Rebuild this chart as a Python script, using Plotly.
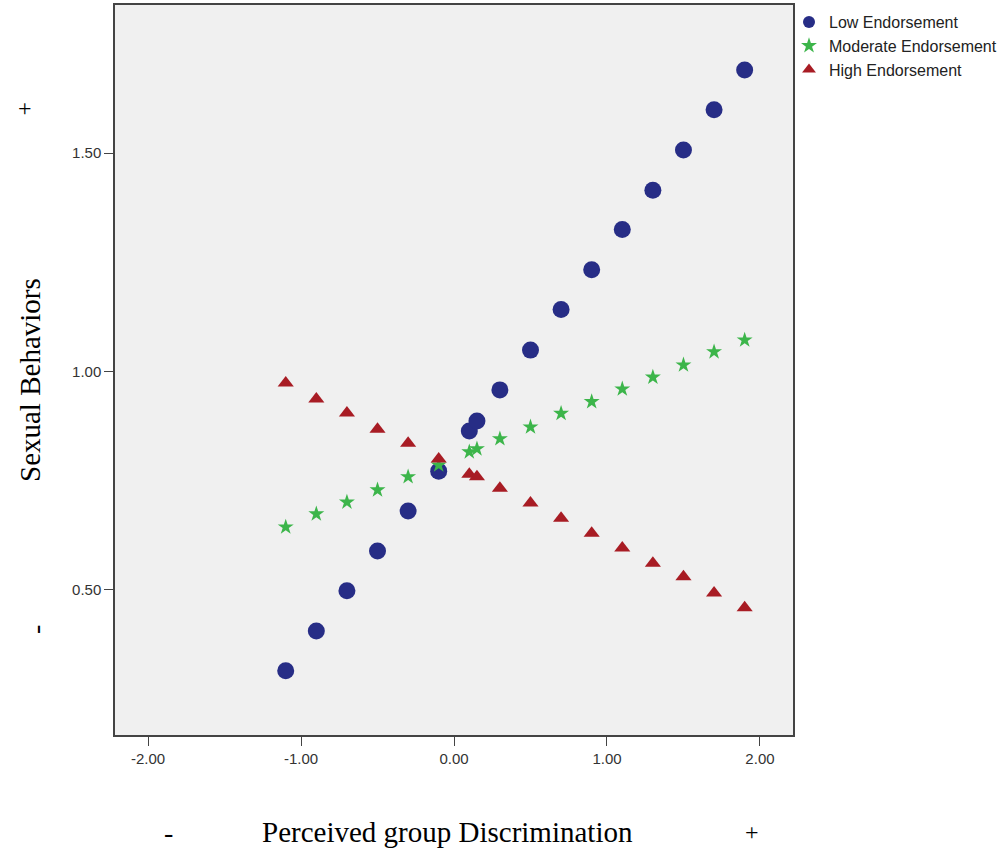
import plotly.graph_objects as go

x_vals = [-1.1, -0.9, -0.7, -0.5, -0.3, -0.1, 0.1, 0.15, 0.3, 0.5, 0.7, 0.9, 1.1, 1.3, 1.5, 1.7, 1.9]
low = [0.315, 0.406, 0.498, 0.589, 0.681, 0.772, 0.864, 0.887, 0.958, 1.049, 1.142, 1.233, 1.325, 1.415, 1.507, 1.599, 1.690]
moderate = [0.644, 0.674, 0.701, 0.729, 0.759, 0.786, 0.816, 0.823, 0.846, 0.873, 0.904, 0.931, 0.960, 0.987, 1.015, 1.045, 1.072]
high = [0.974, 0.937, 0.905, 0.868, 0.836, 0.800, 0.765, 0.759, 0.733, 0.699, 0.664, 0.630, 0.596, 0.561, 0.530, 0.493, 0.459]
series_names = ["Low Endorsement", "Moderate Endorsement", "High Endorsement"]
x_ticks = [-2, -1, 0, 1, 2]
x_ticktext = ["-2.00", "-1.00", "0.00", "1.00", "2.00"]
y_ticks = [0.5, 1.0, 1.5]
y_ticktext = ["0.50", "1.00", "1.50"]

fig = go.Figure()
fig.add_trace(go.Scatter(x=x_vals, y=low, mode="markers", name=series_names[0],
                         marker=dict(symbol="circle", size=17, color="#272d86")))
fig.add_trace(go.Scatter(x=x_vals, y=moderate, mode="markers", name=series_names[1],
                         marker=dict(symbol="star", size=12, color="#3cb54a",
                                     line=dict(width=0))))
fig.add_trace(go.Scatter(x=x_vals, y=high, mode="markers", name=series_names[2],
                         marker=dict(symbol="triangle-up", size=14, color="#a81c24")))

axis_common = dict(showline=True, linecolor="#444444", linewidth=1.5, mirror=True,
                   ticks="outside", ticklen=9, tickcolor="#444444", showgrid=False,
                   zeroline=False, automargin=False,
                   tickfont=dict(family="Liberation Sans, Arial", size=15, color="#333333"))

def px_x(px):
    return (px - 115) / 678

def px_y(py):
    return (735 - py) / 730

serif = "Liberation Serif, Times New Roman"

fig.update_layout(
    width=1003, height=851,
    margin=dict(l=115, r=210, t=5, b=116, autoexpand=False),
    paper_bgcolor="white", plot_bgcolor="#f0f0f0",
    xaxis=dict(range=[-2.216, 2.216], tickvals=x_ticks, ticktext=x_ticktext, **axis_common),
    yaxis=dict(range=[0.168, 1.839], tickvals=y_ticks, ticktext=y_ticktext, **axis_common),
    showlegend=True,
    legend=dict(x=px_x(789), y=1.0, xanchor="left", yanchor="top",
                font=dict(family="Liberation Sans, Arial", size=16, color="#222222"),
                bgcolor="rgba(0,0,0,0)", itemsizing="constant", tracegroupgap=0,
                itemwidth=30),
    annotations=[
        dict(text="Sexual Behaviors", xref="paper", yref="paper", x=px_x(30), y=px_y(380),
             xanchor="center", yanchor="middle", textangle=-90, showarrow=False,
             font=dict(family=serif, size=29, color="black")),
        dict(text="+", xref="paper", yref="paper", x=px_x(25), y=px_y(108),
             xanchor="center", yanchor="middle",
             showarrow=False, font=dict(family=serif, size=24, color="black")),
        dict(text="-", xref="paper", yref="paper", x=px_x(35), y=px_y(630),
             xanchor="center", yanchor="middle", textangle=-90, showarrow=False,
             font=dict(family=serif, size=28, color="black")),
        dict(text="Perceived group Discrimination", xref="paper", yref="paper",
             x=px_x(447), y=px_y(832), xanchor="center", yanchor="middle", showarrow=False,
             font=dict(family=serif, size=29, color="black")),
        dict(text="-", xref="paper", yref="paper", x=px_x(168), y=px_y(832),
             xanchor="center", yanchor="middle",
             showarrow=False, font=dict(family=serif, size=28, color="black")),
        dict(text="+", xref="paper", yref="paper", x=px_x(752), y=px_y(832),
             xanchor="center", yanchor="middle",
             showarrow=False, font=dict(family=serif, size=24, color="black")),
    ],
)

fig.write_html("out.html", config={"displayModeBar": False},
               post_script="document.body.style.margin='0';")
